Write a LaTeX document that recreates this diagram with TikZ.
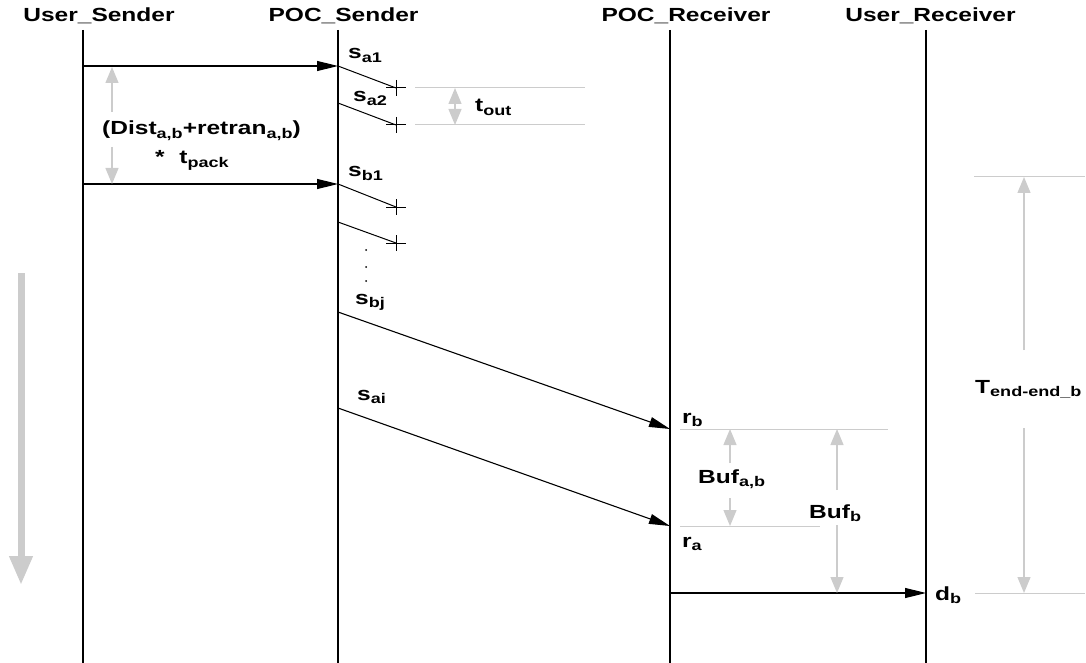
\documentclass[tikz,border=0pt]{standalone}
\usepackage{fontspec}
\setmainfont{Liberation Sans}
\usetikzlibrary{arrows.meta}
\definecolor{lg}{HTML}{CCCCCC}
\newcommand\stx[1]{\scalebox{1.29}[1]{#1}}
\newcommand\sbx[1]{\raisebox{-0.3ex}{\fontsize{14}{14}\selectfont\bfseries #1}}
\tikzset{
  lbl/.style={font=\fontsize{19}{21}\selectfont\bfseries, inner sep=0pt, anchor=base west},
  head/.style={font=\fontsize{19}{21}\selectfont\bfseries, inner sep=0pt, anchor=base},
  life/.style={line width=1.4pt},
  msg/.style={line width=1.1pt, -{Triangle[length=21pt,width=10pt]}},
  seg/.style={line width=1pt},
  guide/.style={draw=lg, line width=1pt},
  dimarr/.style={draw=lg, line width=1.3pt, -{Triangle[length=16pt,width=13pt]}},
  crossmark/.style={line width=1pt},
}
\begin{document}
\begin{tikzpicture}[x=1pt,y=-1pt]
\useasboundingbox (0,0) rectangle (1086,663);
% headers
\node[head] (hUS) at (99,22) {\stx{User\_Sender}};
\node[head] (hPS) at (343.5,22) {\stx{POC\_Sender}};
\node[head] (hPR) at (686,22) {\stx{POC\_Receiver}};
\node[head] (hUR) at (930.5,22) {\stx{User\_Receiver}};
% lifelines
\coordinate (usT) at (83,30); \coordinate (usB) at (83,663);
\coordinate (psT) at (338,30); \coordinate (psB) at (338,663);
\coordinate (prT) at (670,30); \coordinate (prB) at (670,663);
\coordinate (urT) at (926,30); \coordinate (urB) at (926,663);
\draw[life] (usT) -- (usB);
\draw[life] (psT) -- (psB);
\draw[life] (prT) -- (prB);
\draw[life] (urT) -- (urB);
% user sender messages
\coordinate (us1) at (83,66); \coordinate (ps1) at (338,66);
\coordinate (us2) at (83,184); \coordinate (ps2) at (338,184);
\draw[msg] (us1) -- (ps1);
\draw[msg] (us2) -- (ps2);
% slanted timed-out segments
\coordinate (pa2) at (338,103);
\coordinate (pb2) at (338,222);
\coordinate (c1) at (396,88);
\coordinate (c2) at (396,125);
\coordinate (c3) at (396,207);
\coordinate (c4) at (396,243);
\draw[seg] (ps1) -- (c1);
\draw[seg] (pa2) -- (c2);
\draw[seg] (ps2) -- (c3);
\draw[seg] (pb2) -- (c4);
\foreach \c in {c1,c2,c3,c4}{
  \draw[crossmark] (\c) ++(-10,0) -- ++(20,0);
  \draw[crossmark] (\c) ++(0,-8) -- ++(0,16);
}
% dots
\fill (366,250) circle (1pt);
\fill (366,267) circle (1pt);
\fill (366,281) circle (1pt);
% long messages
\coordinate (pbj) at (338,312); \coordinate (rb) at (670,429);
\coordinate (pai) at (338,408); \coordinate (ra) at (670,526);
\draw[msg] (pbj) -- (rb);
\draw[msg] (pai) -- (ra);
\coordinate (pd) at (670,593); \coordinate (ud) at (926,593);
\draw[msg] (pd) -- (ud);
% labels
\node[lbl] (lsa1) at (348,59) {\stx{s\sbx{a1}}};
\node[lbl] (lsa2) at (353,102) {\stx{s\sbx{a2}}};
\node[lbl] (lsb1) at (348,177) {\stx{s\sbx{b1}}};
\node[lbl] (lsbj) at (355,304) {\stx{s\sbx{bj}}};
\node[lbl] (lsai) at (357,400) {\stx{s\sbx{ai}}};
\node[lbl] (ltout) at (475,112) {\stx{t\sbx{out}}};
\node[lbl] (ldist) at (102,135) {\stx{(Dist\sbx{a,b}+retran\sbx{a,b})}};
\node[lbl] (ltpack) at (155,164) {\stx{*\hspace{0.6em}t\sbx{pack}}};
\node[lbl] (lrb) at (682,423) {\stx{r\sbx{b}}};
\node[lbl] (lra) at (682,547) {\stx{r\sbx{a}}};
\node[lbl] (lbufab) at (698,483) {\stx{Buf\sbx{a,b}}};
\node[lbl] (lbufb) at (809,518) {\stx{Buf\sbx{b}}};
\node[lbl] (ldb) at (935,600) {\stx{d\sbx{b}}};
\node[lbl] (lT) at (975,393) {\stx{T\sbx{end-end\_b}}};
% gray guide lines
\draw[guide] (415,88) -- (585,88);
\draw[guide] (415,125) -- (585,125);
\draw[guide] (680,429) -- (888,429);
\draw[guide] (680,526) -- (820,526);
\draw[guide] (975,593) -- (1085,593);
\draw[guide] (974,177) -- (1085,177);
% dimension arrows
\draw[dimarr] (112,112) -- (112,67);
\draw[dimarr] (112,147) -- (112,184);
\draw[dimarr] (455,106.5) -- (455,88);
\draw[dimarr] (455,106.5) -- (455,125);
\draw[dimarr] (730,463) -- (730,429);
\draw[dimarr] (730,498) -- (730,526);
\draw[dimarr] (837,490) -- (837,429);
\draw[dimarr] (837,525) -- (837,593);
\draw[dimarr] (1024,350) -- (1024,177);
\draw[dimarr] (1024,428) -- (1024,593);
% time arrow
\draw[draw=lg, line width=7pt, -{Triangle[length=29pt,width=22pt]}] (21,273) -- (21,585);
\end{tikzpicture}
\end{document}
